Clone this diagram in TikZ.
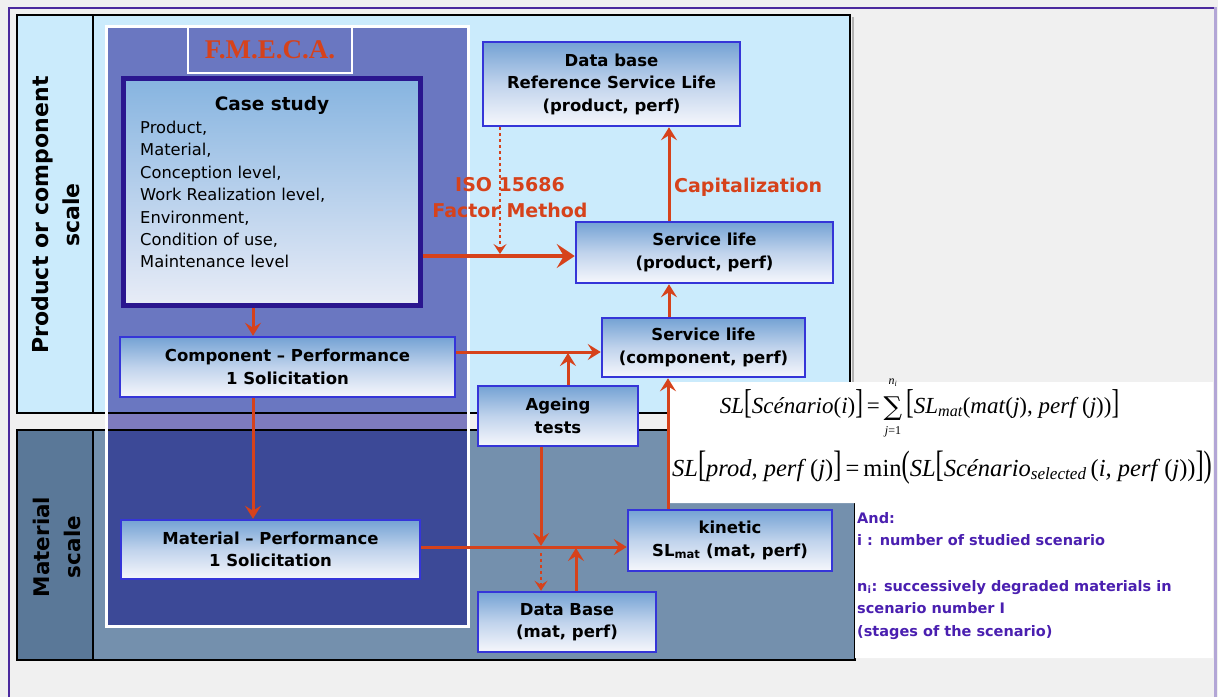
\documentclass[tikz,border=0pt]{standalone}
\usepackage{fontspec}
\usepackage{graphicx}
\setmainfont{DejaVu Sans}
\newfontfamily\tms{Liberation Serif}
\newfontfamily\sumfont{DejaVu Serif}
\usetikzlibrary{arrows.meta}

\definecolor{bggrey}{HTML}{F0F0F0}
\definecolor{framepurple}{HTML}{4B2A9E}
\definecolor{framelav}{HTML}{B3A6D6}
\definecolor{lightblue}{HTML}{CBEBFC}
\definecolor{fmecatop}{HTML}{6A77C1}
\definecolor{fmecastrip}{HTML}{7E7BBE}
\definecolor{fmecabot}{HTML}{3C4997}
\definecolor{matlabel}{HTML}{5A7898}
\definecolor{matpanel}{HTML}{7490AD}
\definecolor{redc}{HTML}{D6421B}
\definecolor{boxborder}{HTML}{3535D8}
\definecolor{caseborder}{HTML}{2A168F}
\definecolor{boxtop}{HTML}{74A2D4}
\definecolor{boxmid}{HTML}{C0D3EC}
\definecolor{boxbot}{HTML}{F6F7FC}
\definecolor{casetop}{HTML}{86B4E0}
\definecolor{casebot}{HTML}{E8ECF7}
\definecolor{purp}{HTML}{4A1FB0}

% tall delimiter made from the serif text font
\newcommand\tallbr[1]{\scalebox{1}[1.5]{#1}}
% italic and upright pieces of the formulas
\newcommand\vi[1]{{\itshape #1\/}}
\newcommand\sub[1]{\textsubscript{\itshape #1}}

\begin{document}
\begin{tikzpicture}[x=1pt,y=-1pt,
  panel/.style={draw=black,line width=2.5pt},
  bluebox/.style={draw=boxborder,line width=2.5pt,top color=boxtop,bottom color=boxbot,middle color=boxmid,
    align=center,inner sep=0pt,font=\fontsize{16.5}{22.5}\selectfont\bfseries},
  conn/.style={draw=redc,line width=3pt,-{Stealth[length=13pt,width=16pt,inset=5pt]}},
  thickconn/.style={draw=redc,line width=4.5pt,-{Stealth[length=18pt,width=24pt,inset=7pt]}},
  dotconn/.style={draw=redc,line width=2.5pt,dash pattern=on 2.5pt off 3.5pt,-{Stealth[length=10pt,width=13pt,inset=4pt]}},
  redlabel/.style={text=redc,inner sep=0pt,font=\fontsize{19}{26}\selectfont\bfseries},
  scalelabel/.style={rotate=90,align=center,inner sep=0pt},
  formula/.style={inner sep=0pt,font=\tms\fontsize{23}{27}\selectfont},
  limit/.style={inner sep=0pt,font=\tms\fontsize{12}{13}\selectfont}]

\useasboundingbox (0,0) rectangle (1218,697);
\clip (0,0) rectangle (1218,697);

% page background and frame
\fill[bggrey] (0,0) rectangle (1218,697);
\draw[framepurple,line width=2pt] (9,697) -- (9,7.5) -- (1214,7.5);
\draw[framelav,line width=3pt] (1215.5,7) -- (1215.5,697);

% scale bands
\draw[panel,fill=lightblue] (17,15) rectangle (93,413);
\draw[panel,fill=lightblue] (93,15) rectangle (850,413);
\draw[gray!60,line width=2pt] (853,17) -- (853,382);
\draw[panel,fill=matlabel] (17,430) rectangle (93,660);
\draw[panel,fill=matpanel] (93,430) rectangle (855,660);

% F.M.E.C.A. column
\fill[fmecatop] (105,25) rectangle (470,413);
\fill[fmecastrip] (105,413) rectangle (470,430);
\fill[fmecabot] (105,430) rectangle (470,628);
\draw[black,line width=2.5pt] (93,413) -- (668,413) (93,430) -- (668,430);
\draw[white,line width=3pt] (106.5,26.5) rectangle (468.5,626.5);

% formula area
\fill[white] (668,382) -- (1213,382) -- (1213,658) -- (855,658) -- (855,503) -- (668,503) -- cycle;

% band labels
\node[scalelabel,font=\fontsize{22}{31}\selectfont\bfseries] (pclabel) at (56,215) {Product or component\\scale};
\node[scalelabel,font=\fontsize{21.5}{31}\selectfont\bfseries] (mlabel) at (57,547) {Material\\scale};

% F.M.E.C.A. title
\node[draw=white,line width=2.5pt,fill=fmecatop,minimum width=164pt,minimum height=46pt,
  text=redc,font=\tms\bfseries\fontsize{27}{27}\selectfont] (fmeca) at (270,50) {F.M.E.C.A.};

% case study
\node[draw=caseborder,line width=5pt,top color=casetop,bottom color=casebot,
  minimum width=297pt,minimum height=227pt] (case) at (271.5,191.5) {};
\node[font=\fontsize{18.5}{22}\selectfont\bfseries] (casetitle) at (272,105) {Case study};
\node[anchor=north west,align=left,inner sep=0pt,font=\fontsize{16.3}{22.4}\selectfont] (caselist) at (140,121)
  {Product,\\Material,\\Conception level,\\Work Realization level,\\Environment,\\Condition of use,\\Maintenance level};

% boxes
\node[bluebox,minimum width=335pt,minimum height=60pt] (comp) at (287.5,367) {Component – Performance\\1 Solicitation};
\node[bluebox,minimum width=299pt,minimum height=59pt] (mat) at (270.5,549.5) {Material – Performance\\1 Solicitation};
\node[bluebox,minimum width=257pt,minimum height=84pt] (dbrsl) at (611.5,84) {Data base\\Reference Service Life\\(product, perf)};
\node[bluebox,minimum width=257pt,minimum height=61pt] (slprod) at (704.5,252.5) {Service life\\(product, perf)};
\node[bluebox,minimum width=203pt,minimum height=59pt] (slcomp) at (703.5,347.5) {Service life\\(component, perf)};
\node[bluebox,minimum width=160pt,minimum height=60pt] (ageing) at (558,416) {Ageing\\tests};
\node[bluebox,minimum width=204pt,minimum height=61pt] (kinetic) at (730,540.5) {kinetic\\SL\textsubscript{mat} (mat, perf)};
\node[bluebox,minimum width=178pt,minimum height=60pt] (dbmat) at (567,622) {Data Base\\(mat, perf)};

% labels on the upper flows
\node[redlabel,align=center] (iso) at (510,198) {ISO 15686\\Factor Method};
\node[redlabel,anchor=west] (capit) at (674,187) {Capitalization};

% connectors
\coordinate (jiso) at (500,256);
\coordinate (xcap) at (669,0);
\coordinate (jcomp) at (568,352);
\coordinate (xkin) at (668,0);
\coordinate (xleft) at (253,0);
\coordinate (jmat) at (541,547);
\coordinate (jdb) at (576,547);

\draw[thickconn] (case.east |- jiso) -- (slprod.west |- jiso);
\draw[dotconn] (dbrsl.south -| jiso) -- ([yshift=2pt]jiso);
\draw[conn] (slprod.north -| xcap) -- (dbrsl.south -| xcap);
\draw[conn] (slcomp.north -| xcap) -- (slprod.south -| xcap);
\draw[conn] (comp.east |- jcomp) -- (slcomp.west |- jcomp);
\draw[conn] (ageing.north -| jcomp) -- ([yshift=-1pt]jcomp);
\draw[conn] (kinetic.north -| xkin) -- (slcomp.south -| xkin);
\draw[conn] (case.south -| xleft) -- (comp.north -| xleft);
\draw[conn] (comp.south -| xleft) -- (mat.north -| xleft);
\draw[conn] (mat.east |- jmat) -- (kinetic.west |- jmat);
\draw[conn] (ageing.south -| jmat) -- ([yshift=1pt]jmat);
\draw[dotconn] ([yshift=-6pt]jmat) -- (dbmat.north -| jmat);
\draw[conn] (dbmat.north -| jdb) -- ([yshift=-1pt]jdb);

% scenario service life: left side, summation sign with its limits, summand
\node[formula,anchor=base east] (f1a) at (880,413)
  {\vi{SL}\tallbr{[}\vi{Scénario}(\vi{i})\tallbr{]}\,=};
\node[inner sep=0pt,anchor=base,font=\sumfont\fontsize{26}{28}\selectfont] (f1s) at (893,415) {∑};
\node[limit] (f1top) at (893,383) {\vi{n}\sub{i}};
\node[limit] (f1bot) at (893,432) {\vi{j}=1};
\node[formula,anchor=base west] (f1b) at (906,413)
  {\tallbr{[}\vi{SL}\sub{mat}(\vi{mat}(\vi{j}), \vi{perf}\,(\vi{j}))\tallbr{]}};
% product service life
\node[formula,anchor=base west,font=\tms\fontsize{24.5}{28}\selectfont] (f2) at (672,476)
  {\vi{SL}\tallbr{[}\vi{prod, perf}\,(\vi{j})\tallbr{]}\,=\,min\tallbr{(}\vi{SL}\tallbr{[}\vi{Scénario}\sub{selected}\,(\vi{i, perf}\,(\vi{j}))\tallbr{]}\tallbr{)}};

% notes
\node[anchor=north west,align=left,inner sep=0pt,text=purp,font=\fontsize{14.5}{22.6}\selectfont\bfseries] (notes) at (857,512)
  {And:\\i : number of studied scenario\\[22.6pt]n\textsubscript{i}: successively degraded materials in\\scenario number I\\(stages of the scenario)};

\end{tikzpicture}
\end{document}
